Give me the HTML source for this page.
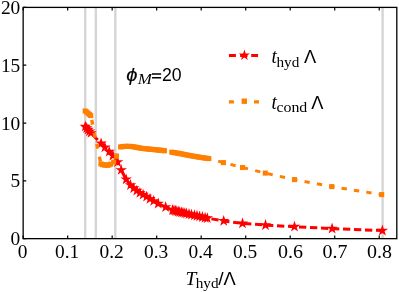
<!DOCTYPE html>
<html><head><meta charset="utf-8"><title>chart</title>
<style>html,body{margin:0;padding:0;background:#fff;}body{width:399px;height:292px;overflow:hidden;font-family:"Liberation Sans",sans-serif;}svg{display:block;will-change:transform;}</style>
</head><body>
<svg width="399" height="292" viewBox="0 0 399 292">
<line x1="85.2" y1="7.4" x2="85.2" y2="238.65" stroke="#d5d5d5" stroke-width="2.4"/>
<line x1="95.8" y1="7.4" x2="95.8" y2="238.65" stroke="#d5d5d5" stroke-width="2.4"/>
<line x1="115.3" y1="7.4" x2="115.3" y2="238.65" stroke="#d5d5d5" stroke-width="2.4"/>
<line x1="382.6" y1="7.4" x2="382.6" y2="238.65" stroke="#d5d5d5" stroke-width="2.4"/>
<polyline points="85.30,126.50 86.70,128.10 88.10,129.70 89.50,131.30 91.00,133.00 101.10,143.40 104.90,147.30 109.20,151.70 112.90,155.60 117.60,162.10 121.20,170.00" fill="none" stroke="#ff0000" stroke-width="3" stroke-dasharray="7.3 3.7"/>
<polyline points="121.20,170.00 126.15,179.40 130.50,185.05 133.70,188.20 136.80,190.70 139.90,192.95 143.10,194.70 146.60,196.70 150.00,198.85 153.70,201.00 158.20,203.60 165.65,207.10 172.50,210.10 173.95,210.49 175.40,210.87 176.85,211.26 178.30,211.65 179.75,212.03 181.60,212.46 183.00,212.77 184.80,213.17 186.50,213.54 189.00,214.10 191.50,214.66 194.50,215.31 197.00,215.84 199.60,216.39 202.40,217.11 205.10,217.82 207.30,218.20" fill="none" stroke="#ff0000" stroke-width="3"/>
<polyline points="207.30,218.20 223.70,220.90 242.50,223.40 265.50,225.10 294.50,226.70 332.10,228.60 382.40,230.60" fill="none" stroke="#ff0000" stroke-width="3" stroke-dasharray="7.3 3.71" stroke-dashoffset="6.89"/>
<g fill="#ff0000"><polygon points="85.30,120.50 86.65,124.65 91.01,124.65 87.48,127.21 88.83,131.35 85.30,128.79 81.77,131.35 83.12,127.21 79.59,124.65 83.95,124.65"/><polygon points="86.70,122.10 88.05,126.25 92.41,126.25 88.88,128.81 90.23,132.95 86.70,130.39 83.17,132.95 84.52,128.81 80.99,126.25 85.35,126.25"/><polygon points="88.10,123.70 89.45,127.85 93.81,127.85 90.28,130.41 91.63,134.55 88.10,131.99 84.57,134.55 85.92,130.41 82.39,127.85 86.75,127.85"/><polygon points="89.50,125.30 90.85,129.45 95.21,129.45 91.68,132.01 93.03,136.15 89.50,133.59 85.97,136.15 87.32,132.01 83.79,129.45 88.15,129.45"/><polygon points="91.00,127.00 92.35,131.15 96.71,131.15 93.18,133.71 94.53,137.85 91.00,135.29 87.47,137.85 88.82,133.71 85.29,131.15 89.65,131.15"/><polygon points="101.10,137.40 102.45,141.55 106.81,141.55 103.28,144.11 104.63,148.25 101.10,145.69 97.57,148.25 98.92,144.11 95.39,141.55 99.75,141.55"/><polygon points="104.90,141.30 106.25,145.45 110.61,145.45 107.08,148.01 108.43,152.15 104.90,149.59 101.37,152.15 102.72,148.01 99.19,145.45 103.55,145.45"/><polygon points="109.20,145.70 110.55,149.85 114.91,149.85 111.38,152.41 112.73,156.55 109.20,153.99 105.67,156.55 107.02,152.41 103.49,149.85 107.85,149.85"/><polygon points="112.90,149.60 114.25,153.75 118.61,153.75 115.08,156.31 116.43,160.45 112.90,157.89 109.37,160.45 110.72,156.31 107.19,153.75 111.55,153.75"/><polygon points="117.60,156.10 118.95,160.25 123.31,160.25 119.78,162.81 121.13,166.95 117.60,164.39 114.07,166.95 115.42,162.81 111.89,160.25 116.25,160.25"/><polygon points="121.20,164.00 122.55,168.15 126.91,168.15 123.38,170.71 124.73,174.85 121.20,172.29 117.67,174.85 119.02,170.71 115.49,168.15 119.85,168.15"/><polygon points="126.15,173.40 127.50,177.55 131.86,177.55 128.33,180.11 129.68,184.25 126.15,181.69 122.62,184.25 123.97,180.11 120.44,177.55 124.80,177.55"/><polygon points="130.50,179.05 131.85,183.20 136.21,183.20 132.68,185.76 134.03,189.90 130.50,187.34 126.97,189.90 128.32,185.76 124.79,183.20 129.15,183.20"/><polygon points="133.70,182.20 135.05,186.35 139.41,186.35 135.88,188.91 137.23,193.05 133.70,190.49 130.17,193.05 131.52,188.91 127.99,186.35 132.35,186.35"/><polygon points="136.80,184.70 138.15,188.85 142.51,188.85 138.98,191.41 140.33,195.55 136.80,192.99 133.27,195.55 134.62,191.41 131.09,188.85 135.45,188.85"/><polygon points="139.90,186.95 141.25,191.10 145.61,191.10 142.08,193.66 143.43,197.80 139.90,195.24 136.37,197.80 137.72,193.66 134.19,191.10 138.55,191.10"/><polygon points="143.10,188.70 144.45,192.85 148.81,192.85 145.28,195.41 146.63,199.55 143.10,196.99 139.57,199.55 140.92,195.41 137.39,192.85 141.75,192.85"/><polygon points="146.60,190.70 147.95,194.85 152.31,194.85 148.78,197.41 150.13,201.55 146.60,198.99 143.07,201.55 144.42,197.41 140.89,194.85 145.25,194.85"/><polygon points="150.00,192.85 151.35,197.00 155.71,197.00 152.18,199.56 153.53,203.70 150.00,201.14 146.47,203.70 147.82,199.56 144.29,197.00 148.65,197.00"/><polygon points="153.70,195.00 155.05,199.15 159.41,199.15 155.88,201.71 157.23,205.85 153.70,203.29 150.17,205.85 151.52,201.71 147.99,199.15 152.35,199.15"/><polygon points="158.20,197.60 159.55,201.75 163.91,201.75 160.38,204.31 161.73,208.45 158.20,205.89 154.67,208.45 156.02,204.31 152.49,201.75 156.85,201.75"/><polygon points="165.65,201.10 167.00,205.25 171.36,205.25 167.83,207.81 169.18,211.95 165.65,209.39 162.12,211.95 163.47,207.81 159.94,205.25 164.30,205.25"/><polygon points="172.50,204.10 173.85,208.25 178.21,208.25 174.68,210.81 176.03,214.95 172.50,212.39 168.97,214.95 170.32,210.81 166.79,208.25 171.15,208.25"/><polygon points="173.95,204.49 175.30,208.63 179.66,208.63 176.13,211.19 177.48,215.34 173.95,212.78 170.42,215.34 171.77,211.19 168.24,208.63 172.60,208.63"/><polygon points="175.40,204.87 176.75,209.02 181.11,209.02 177.58,211.58 178.93,215.73 175.40,213.17 171.87,215.73 173.22,211.58 169.69,209.02 174.05,209.02"/><polygon points="176.85,205.26 178.20,209.41 182.56,209.41 179.03,211.97 180.38,216.11 176.85,213.55 173.32,216.11 174.67,211.97 171.14,209.41 175.50,209.41"/><polygon points="178.30,205.65 179.65,209.79 184.01,209.79 180.48,212.35 181.83,216.50 178.30,213.94 174.77,216.50 176.12,212.35 172.59,209.79 176.95,209.79"/><polygon points="179.75,206.03 181.10,210.18 185.46,210.18 181.93,212.74 183.28,216.89 179.75,214.33 176.22,216.89 177.57,212.74 174.04,210.18 178.40,210.18"/><polygon points="181.60,206.46 182.95,210.60 187.31,210.60 183.78,213.16 185.13,217.31 181.60,214.75 178.07,217.31 179.42,213.16 175.89,210.60 180.25,210.60"/><polygon points="183.00,206.77 184.35,210.91 188.71,210.91 185.18,213.47 186.53,217.62 183.00,215.06 179.47,217.62 180.82,213.47 177.29,210.91 181.65,210.91"/><polygon points="184.80,207.17 186.15,211.31 190.51,211.31 186.98,213.87 188.33,218.02 184.80,215.46 181.27,218.02 182.62,213.87 179.09,211.31 183.45,211.31"/><polygon points="186.50,207.54 187.85,211.69 192.21,211.69 188.68,214.25 190.03,218.40 186.50,215.84 182.97,218.40 184.32,214.25 180.79,211.69 185.15,211.69"/><polygon points="189.00,208.10 190.35,212.25 194.71,212.25 191.18,214.81 192.53,218.95 189.00,216.39 185.47,218.95 186.82,214.81 183.29,212.25 187.65,212.25"/><polygon points="191.50,208.66 192.85,212.80 197.21,212.80 193.68,215.36 195.03,219.51 191.50,216.95 187.97,219.51 189.32,215.36 185.79,212.80 190.15,212.80"/><polygon points="194.50,209.31 195.85,213.45 200.21,213.45 196.68,216.01 198.03,220.16 194.50,217.60 190.97,220.16 192.32,216.01 188.79,213.45 193.15,213.45"/><polygon points="197.00,209.84 198.35,213.98 202.71,213.98 199.18,216.55 200.53,220.69 197.00,218.13 193.47,220.69 194.82,216.55 191.29,213.98 195.65,213.98"/><polygon points="199.60,210.39 200.95,214.54 205.31,214.54 201.78,217.10 203.13,221.25 199.60,218.69 196.07,221.25 197.42,217.10 193.89,214.54 198.25,214.54"/><polygon points="202.40,211.11 203.75,215.26 208.11,215.26 204.58,217.82 205.93,221.96 202.40,219.40 198.87,221.96 200.22,217.82 196.69,215.26 201.05,215.26"/><polygon points="205.10,211.82 206.45,215.96 210.81,215.96 207.28,218.53 208.63,222.67 205.10,220.11 201.57,222.67 202.92,218.53 199.39,215.96 203.75,215.96"/><polygon points="207.30,212.20 208.65,216.35 213.01,216.35 209.48,218.91 210.83,223.05 207.30,220.49 203.77,223.05 205.12,218.91 201.59,216.35 205.95,216.35"/><polygon points="223.70,214.90 225.05,219.05 229.41,219.05 225.88,221.61 227.23,225.75 223.70,223.19 220.17,225.75 221.52,221.61 217.99,219.05 222.35,219.05"/><polygon points="242.50,217.40 243.85,221.55 248.21,221.55 244.68,224.11 246.03,228.25 242.50,225.69 238.97,228.25 240.32,224.11 236.79,221.55 241.15,221.55"/><polygon points="265.50,219.10 266.85,223.25 271.21,223.25 267.68,225.81 269.03,229.95 265.50,227.39 261.97,229.95 263.32,225.81 259.79,223.25 264.15,223.25"/><polygon points="294.50,220.70 295.85,224.85 300.21,224.85 296.68,227.41 298.03,231.55 294.50,228.99 290.97,231.55 292.32,227.41 288.79,224.85 293.15,224.85"/><polygon points="332.10,222.60 333.45,226.75 337.81,226.75 334.28,229.31 335.63,233.45 332.10,230.89 328.57,233.45 329.92,229.31 326.39,226.75 330.75,226.75"/><polygon points="382.40,224.60 383.75,228.75 388.11,228.75 384.58,231.31 385.93,235.45 382.40,232.89 378.87,235.45 380.22,231.31 376.69,228.75 381.05,228.75"/></g>
<g fill="#ff8000"><rect x="-2.40" y="-1.70" width="4.8" height="3.4" transform="translate(92.20,122.20) rotate(78.0)"/><rect x="-2.40" y="-1.70" width="4.8" height="3.4" transform="translate(94.70,135.20) rotate(78.0)"/><rect x="-2.40" y="-1.70" width="4.8" height="3.4" transform="translate(97.30,146.30) rotate(78.0)"/><rect x="-2.40" y="-1.70" width="4.8" height="3.4" transform="translate(99.90,159.00) rotate(76.0)"/><rect x="-2.65" y="-1.50" width="5.3" height="3.0" transform="translate(220.70,161.86) rotate(15.3)"/><rect x="-2.65" y="-1.50" width="5.3" height="3.0" transform="translate(233.05,165.08) rotate(14.4)"/><rect x="-2.65" y="-1.50" width="5.3" height="3.0" transform="translate(245.40,168.21) rotate(13.8)"/><rect x="-2.65" y="-1.50" width="5.3" height="3.0" transform="translate(257.75,171.25) rotate(13.8)"/><rect x="-2.65" y="-1.50" width="5.3" height="3.0" transform="translate(270.10,174.17) rotate(12.5)"/><rect x="-2.65" y="-1.50" width="5.3" height="3.0" transform="translate(282.45,176.92) rotate(12.5)"/><rect x="-2.65" y="-1.50" width="5.3" height="3.0" transform="translate(294.80,179.66) rotate(11.3)"/><rect x="-2.65" y="-1.50" width="5.3" height="3.0" transform="translate(307.15,181.97) rotate(10.6)"/><rect x="-2.65" y="-1.50" width="5.3" height="3.0" transform="translate(319.50,184.29) rotate(10.6)"/><rect x="-2.65" y="-1.50" width="5.3" height="3.0" transform="translate(331.85,186.61) rotate(9.8)"/><rect x="-2.65" y="-1.50" width="5.3" height="3.0" transform="translate(344.20,188.59) rotate(9.1)"/><rect x="-2.65" y="-1.50" width="5.3" height="3.0" transform="translate(356.55,190.57) rotate(9.1)"/><rect x="-2.65" y="-1.50" width="5.3" height="3.0" transform="translate(368.90,192.55) rotate(9.1)"/><rect x="-2.65" y="-1.50" width="5.3" height="3.0" transform="translate(381.25,194.53) rotate(6.6)"/><rect x="82.65" y="108.45" width="5.1" height="5.1"/><rect x="84.05" y="109.45" width="5.1" height="5.1"/><rect x="85.45" y="110.65" width="5.1" height="5.1"/><rect x="86.85" y="111.85" width="5.1" height="5.1"/><rect x="88.15" y="113.05" width="5.1" height="5.1"/><rect x="98.35" y="161.35" width="5.1" height="5.1"/><rect x="100.05" y="162.05" width="5.1" height="5.1"/><rect x="101.85" y="162.50" width="5.1" height="5.1"/><rect x="103.45" y="162.55" width="5.1" height="5.1"/><rect x="104.95" y="162.55" width="5.1" height="5.1"/><rect x="106.25" y="162.45" width="5.1" height="5.1"/><rect x="108.05" y="161.65" width="5.1" height="5.1"/><rect x="111.05" y="159.55" width="5.1" height="5.1"/><rect x="113.95" y="153.65" width="5.1" height="5.1"/><rect x="118.05" y="144.35" width="5.1" height="5.1"/><rect x="119.65" y="144.11" width="5.1" height="5.1"/><rect x="121.45" y="143.94" width="5.1" height="5.1"/><rect x="123.25" y="143.77" width="5.1" height="5.1"/><rect x="125.05" y="143.80" width="5.1" height="5.1"/><rect x="126.85" y="143.86" width="5.1" height="5.1"/><rect x="128.65" y="143.92" width="5.1" height="5.1"/><rect x="130.45" y="144.14" width="5.1" height="5.1"/><rect x="132.25" y="144.48" width="5.1" height="5.1"/><rect x="134.05" y="144.82" width="5.1" height="5.1"/><rect x="135.85" y="145.17" width="5.1" height="5.1"/><rect x="137.65" y="145.51" width="5.1" height="5.1"/><rect x="139.45" y="145.85" width="5.1" height="5.1"/><rect x="141.25" y="146.03" width="5.1" height="5.1"/><rect x="143.05" y="146.21" width="5.1" height="5.1"/><rect x="144.85" y="146.39" width="5.1" height="5.1"/><rect x="146.65" y="146.57" width="5.1" height="5.1"/><rect x="148.45" y="146.75" width="5.1" height="5.1"/><rect x="150.25" y="146.93" width="5.1" height="5.1"/><rect x="152.05" y="147.11" width="5.1" height="5.1"/><rect x="153.85" y="147.29" width="5.1" height="5.1"/><rect x="155.65" y="147.47" width="5.1" height="5.1"/><rect x="157.45" y="147.65" width="5.1" height="5.1"/><rect x="159.25" y="147.83" width="5.1" height="5.1"/><rect x="161.05" y="148.05" width="5.1" height="5.1"/><rect x="161.85" y="148.20" width="5.1" height="5.1"/><rect x="169.25" y="149.65" width="5.1" height="5.1"/><rect x="171.10" y="149.97" width="5.1" height="5.1"/><rect x="172.95" y="150.28" width="5.1" height="5.1"/><rect x="174.80" y="150.60" width="5.1" height="5.1"/><rect x="176.65" y="150.91" width="5.1" height="5.1"/><rect x="178.50" y="151.26" width="5.1" height="5.1"/><rect x="180.35" y="151.63" width="5.1" height="5.1"/><rect x="182.20" y="152.00" width="5.1" height="5.1"/><rect x="184.05" y="152.37" width="5.1" height="5.1"/><rect x="185.90" y="152.74" width="5.1" height="5.1"/><rect x="187.75" y="153.10" width="5.1" height="5.1"/><rect x="189.60" y="153.42" width="5.1" height="5.1"/><rect x="191.45" y="153.73" width="5.1" height="5.1"/><rect x="193.30" y="154.04" width="5.1" height="5.1"/><rect x="195.15" y="154.36" width="5.1" height="5.1"/><rect x="197.00" y="154.67" width="5.1" height="5.1"/><rect x="198.85" y="154.96" width="5.1" height="5.1"/><rect x="200.70" y="155.23" width="5.1" height="5.1"/><rect x="202.55" y="155.50" width="5.1" height="5.1"/><rect x="204.40" y="155.78" width="5.1" height="5.1"/><rect x="206.25" y="156.05" width="5.1" height="5.1"/><rect x="220.85" y="160.05" width="5.1" height="5.1"/><rect x="239.95" y="164.95" width="5.1" height="5.1"/><rect x="262.75" y="170.55" width="5.1" height="5.1"/><rect x="291.95" y="177.05" width="5.1" height="5.1"/><rect x="329.25" y="184.05" width="5.1" height="5.1"/><rect x="379.15" y="192.05" width="5.1" height="5.1"/></g>
<rect x="23.15" y="7.4" width="373.65000000000003" height="231.25" fill="none" stroke="#000" stroke-width="1.3"/>
<path d="M23.15,238.65v-3.1M23.15,7.4v3.1M67.66,238.65v-3.1M67.66,7.4v3.1M112.17,238.65v-3.1M112.17,7.4v3.1M156.68,238.65v-3.1M156.68,7.4v3.1M201.19,238.65v-3.1M201.19,7.4v3.1M245.70,238.65v-3.1M245.70,7.4v3.1M290.21,238.65v-3.1M290.21,7.4v3.1M334.72,238.65v-3.1M334.72,7.4v3.1M379.23,238.65v-3.1M379.23,7.4v3.1M23.15,238.65h3.1M23.15,180.84h3.1M23.15,123.03h3.1M23.15,65.21h3.1M23.15,7.40h3.1" stroke="#000" stroke-width="1.2" fill="none"/>
<text transform="translate(22.65,258.30) scale(1.0,1)" text-anchor="middle" font-family="Liberation Serif, serif" font-size="19.4" >0</text>
<text transform="translate(67.16,258.30) scale(1.0,1)" text-anchor="middle" font-family="Liberation Serif, serif" font-size="19.4" >0.1</text>
<text transform="translate(111.67,258.30) scale(1.0,1)" text-anchor="middle" font-family="Liberation Serif, serif" font-size="19.4" >0.2</text>
<text transform="translate(156.18,258.30) scale(1.0,1)" text-anchor="middle" font-family="Liberation Serif, serif" font-size="19.4" >0.3</text>
<text transform="translate(200.69,258.30) scale(1.0,1)" text-anchor="middle" font-family="Liberation Serif, serif" font-size="19.4" >0.4</text>
<text transform="translate(245.20,258.30) scale(1.0,1)" text-anchor="middle" font-family="Liberation Serif, serif" font-size="19.4" >0.5</text>
<text transform="translate(290.51,258.30) scale(1.03,1)" text-anchor="middle" font-family="Liberation Serif, serif" font-size="19.4" >0.6</text>
<text transform="translate(335.02,258.30) scale(1.03,1)" text-anchor="middle" font-family="Liberation Serif, serif" font-size="19.4" >0.7</text>
<text transform="translate(379.53,258.30) scale(1.03,1)" text-anchor="middle" font-family="Liberation Serif, serif" font-size="19.4" >0.8</text>
<text transform="translate(20.30,245.25) scale(1.0,1)" text-anchor="end" font-family="Liberation Serif, serif" font-size="19.4" >0</text>
<text transform="translate(20.30,187.44) scale(1.0,1)" text-anchor="end" font-family="Liberation Serif, serif" font-size="19.4" >5</text>
<text transform="translate(20.30,129.62) scale(1.0,1)" text-anchor="end" font-family="Liberation Serif, serif" font-size="19.4" >10</text>
<text transform="translate(20.30,71.81) scale(1.0,1)" text-anchor="end" font-family="Liberation Serif, serif" font-size="19.4" >15</text>
<text transform="translate(20.30,14.00) scale(1.0,1)" text-anchor="end" font-family="Liberation Serif, serif" font-size="19.4" >20</text>
<path d="M229,55.4h6.9M240.1,55.4h7.4M251.2,55.4h6.9" stroke="#ff0000" stroke-width="3"/>
<g fill="#ff0000"><polygon points="244.40,49.50 245.70,53.51 249.92,53.51 246.51,55.98 247.81,59.99 244.40,57.52 240.99,59.99 242.29,55.98 238.88,53.51 243.10,53.51"/></g>
<path d="M228.9,101.9h5M254.0,101.9h5" stroke="#ff8000" stroke-width="3.1"/>
<g fill="#ff8000"><rect x="241.60" y="98.50" width="5.4" height="5.4"/></g>
<text transform="translate(271.40,62.90) scale(0.92,1)" text-anchor="start" font-family="Liberation Serif, serif" font-size="21" font-style="italic">t</text>
<text transform="translate(276.40,66.60) scale(1.03,1)" text-anchor="start" font-family="Liberation Serif, serif" font-size="14.8" >hyd</text>
<text transform="translate(303.90,63.10) scale(0.955,1)" text-anchor="start" font-family="Liberation Sans, sans-serif" font-size="19.2" >&#923;</text>
<text transform="translate(271.40,108.90) scale(0.92,1)" text-anchor="start" font-family="Liberation Serif, serif" font-size="21" font-style="italic">t</text>
<text transform="translate(276.40,112.40) scale(1.075,1)" text-anchor="start" font-family="Liberation Serif, serif" font-size="14.8" >cond</text>
<text transform="translate(311.20,108.80) scale(0.955,1)" text-anchor="start" font-family="Liberation Sans, sans-serif" font-size="19.2" >&#923;</text>
<text transform="translate(126.20,80.50) scale(1.12,1)" text-anchor="start" font-family="Liberation Sans, sans-serif" font-size="18" font-style="italic" stroke="#000" stroke-width="0.15">&#981;</text>
<text transform="translate(137.80,84.20) scale(1.12,1)" text-anchor="start" font-family="Liberation Serif, serif" font-size="15.2" font-style="italic">M</text>
<path d="M152,74h9.1M152,77.7h9.1" stroke="#000" stroke-width="1.5"/>
<text transform="translate(161.90,80.50) scale(0.93,1)" text-anchor="start" font-family="Liberation Sans, sans-serif" font-size="19" >20</text>
<text transform="translate(185.50,285.00) scale(1.0,1)" text-anchor="start" font-family="Liberation Serif, serif" font-size="19.5" font-style="italic">T</text>
<text transform="translate(195.70,288.20) scale(1.03,1)" text-anchor="start" font-family="Liberation Serif, serif" font-size="14.8" >hyd</text>
<text transform="translate(218.20,285.00) scale(1.0,1)" text-anchor="start" font-family="Liberation Sans, sans-serif" font-size="19.2" >/</text>
<text transform="translate(223.40,285.00) scale(0.955,1)" text-anchor="start" font-family="Liberation Sans, sans-serif" font-size="19.2" >&#923;</text>
</svg>
</body></html>
